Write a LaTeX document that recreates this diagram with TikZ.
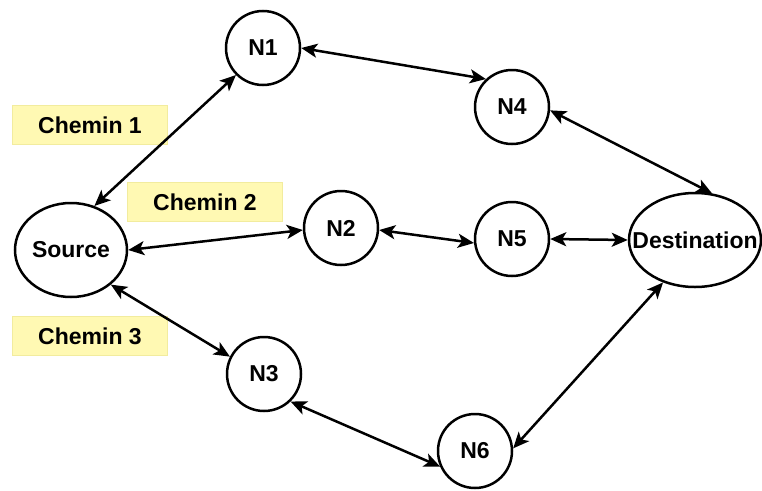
\documentclass[tikz,border=0pt]{standalone}
\usepackage{fontspec}
\setmainfont{Liberation Sans}
\usetikzlibrary{shapes.geometric,arrows.meta}
\definecolor{notefill}{HTML}{FFF9B3}
\definecolor{noteline}{HTML}{F2EC9E}
\begin{document}
\begin{tikzpicture}[x=1pt,y=-1pt,
  font=\fontsize{23}{27}\selectfont\bfseries,
  hop/.style={circle,draw,line width=2.5pt,minimum size=74pt,inner sep=0pt},
  endpoint/.style={ellipse,draw,line width=2.5pt,inner sep=0pt},
  tag/.style={draw=noteline,fill=notefill,line width=1pt,minimum width=155pt,minimum height=39pt,inner sep=0pt},
  tip/.tip={Stealth[length=16pt,width=14pt,inset=4pt]},
  link/.style={line width=2.5pt,tip-tip}]
\useasboundingbox (0,0) rectangle (762,490);

% path labels
\node[tag] (c1) at (90,125) {Chemin 1};
\node[tag] (c2) at (205,202) {Chemin 2};
\node[tag] (c3) at (90,336) {Chemin 3};

% end points
\node[endpoint,minimum width=112pt,minimum height=94pt] (src) at (71,250) {\makebox[0pt]{Source}};
\node[endpoint,minimum width=132pt,minimum height=94pt] (dest) at (695,240) {\makebox[0pt]{Destination}};

% relay nodes
\node[hop] (n1) at (263,48) {N1};
\node[hop] (n4) at (512,107) {N4};
\node[hop] (n2) at (341,228) {N2};
\node[hop] (n5) at (512,239) {N5};
\node[hop] (n3) at (264,374) {N3};
\node[hop] (n6) at (475,451) {N6};

% links
\draw[link] (src.62) -- (n1.225);
\draw[link] (n1.0) -- (n4.133);
\draw[link] (n4.355) -- (dest.70);
\draw[link] (src.0) -- (n2.183);
\draw[link] (n2.357) -- (n5.186);
\draw[link] (n5.0) -- (dest.180);
\draw[link] (src.319) -- (n3.153);
\draw[link] (n3.314) -- (n6.204);
\draw[link] (n6.4) -- (dest.233);
\end{tikzpicture}
\end{document}
